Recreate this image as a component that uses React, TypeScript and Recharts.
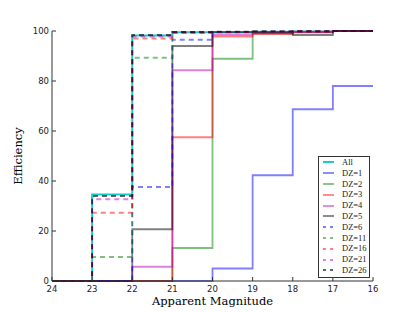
import React from "react";
import { Label, Line, LineChart, XAxis, YAxis } from "recharts";

// bin edges (apparent magnitude), last value repeated to close the final step
const edges = [24, 23, 22, 21, 20, 19, 18, 17, 16];
const yTicks = [0, 20, 40, 60, 80, 100];

const effAll = [0, 34.6, 98.2, 99.5, 99.6, 99.7, 99.8, 100, 100];
const effDz1 = [0, 0, 0, 0, 5, 42.3, 68.7, 78, 78];
const effDz2 = [0, 0, 0, 13.2, 88.9, 99, 99.5, 100, 100];
const effDz3 = [0, 0, 0, 57.5, 97.8, 98.8, 99.5, 100, 100];
const effDz4 = [0, 0, 5.7, 84.3, 98.5, 99.3, 99.7, 100, 100];
const effDz5 = [0, 0, 20.7, 94, 99.5, 99.5, 98.4, 100, 100];
const effDz6 = [0, 0, 37.6, 96.5, 99.5, 99.7, 99.8, 100, 100];
const effDz11 = [0, 9.6, 89.3, 99.4, 99.6, 99.7, 99.8, 100, 100];
const effDz16 = [0, 27.3, 97, 99.3, 99.6, 99.7, 99.8, 100, 100];
const effDz21 = [0, 32.7, 97.8, 99.5, 99.6, 99.7, 99.8, 100, 100];
const effDz26 = [0, 34, 98.4, 99.6, 99.7, 99.8, 99.9, 100, 100];

type Series = { key: string; name: string; values: number[]; color: string; dashed: boolean; opacity: number; width: number };

const series: Series[] = [
  { key: "all", name: "All", values: effAll, color: "#00c4c4", dashed: false, opacity: 0.9, width: 2 },
  { key: "dz1", name: "DZ=1", values: effDz1, color: "#0000ff", dashed: false, opacity: 0.5, width: 1.8 },
  { key: "dz2", name: "DZ=2", values: effDz2, color: "#008000", dashed: false, opacity: 0.5, width: 1.8 },
  { key: "dz3", name: "DZ=3", values: effDz3, color: "#ff0000", dashed: false, opacity: 0.5, width: 1.8 },
  { key: "dz4", name: "DZ=4", values: effDz4, color: "#c000c0", dashed: false, opacity: 0.5, width: 1.8 },
  { key: "dz5", name: "DZ=5", values: effDz5, color: "#000000", dashed: false, opacity: 0.5, width: 1.8 },
  { key: "dz6", name: "DZ=6", values: effDz6, color: "#0000ff", dashed: true, opacity: 0.5, width: 1.8 },
  { key: "dz11", name: "DZ=11", values: effDz11, color: "#008000", dashed: true, opacity: 0.5, width: 1.8 },
  { key: "dz16", name: "DZ=16", values: effDz16, color: "#ff0000", dashed: true, opacity: 0.5, width: 1.8 },
  { key: "dz21", name: "DZ=21", values: effDz21, color: "#c000c0", dashed: true, opacity: 0.5, width: 1.8 },
  { key: "dz26", name: "DZ=26", values: effDz26, color: "#000000", dashed: true, opacity: 0.6, width: 1.8 },
];

const data = edges.map((mag, i) => {
  const row: Record<string, number> = { mag };
  series.forEach((s) => (row[s.key] = s.values[i]));
  return row;
});

const AXIS = "#333";
const TICK_FONT = "DejaVu Sans, sans-serif";
const SERIF = "DejaVu Serif, serif";
const LEGEND_FONT = "Liberation Serif, serif";

const BottomTick = ({ x, y, payload }: any) => (
  <g>
    <line x1={x} y1={y} x2={x} y2={y - 4} stroke={AXIS} />
    <text x={x} y={y + 11} textAnchor="middle" fontSize={8.5} fontFamily={TICK_FONT} fill="#222">
      {payload.value}
    </text>
  </g>
);
const TopTick = ({ x, y }: any) => <line x1={x} y1={y} x2={x} y2={y + 4} stroke={AXIS} />;
const LeftTick = ({ x, y, payload }: any) => (
  <g>
    <line x1={x} y1={y} x2={x + 4} y2={y} stroke={AXIS} />
    <text x={x - 3} y={y + 3} textAnchor="end" fontSize={8.5} fontFamily={TICK_FONT} fill="#222">
      {payload.value}
    </text>
  </g>
);
const RightTick = ({ x, y }: any) => <line x1={x} y1={y} x2={x - 4} y2={y} stroke={AXIS} />;

function LegendBox() {
  return (
    <div
      style={{
        position: "absolute",
        left: 318,
        top: 156,
        width: 52,
        height: 122,
        border: "1px solid #333",
        background: "#fff",
        boxSizing: "border-box",
        padding: "0 0 0 3px",
        fontFamily: LEGEND_FONT,
        fontSize: 8.5,
        color: "#222",
      }}
    >
      {series.map((s) => (
        <div key={s.key} style={{ display: "flex", alignItems: "center", height: 10.8, lineHeight: "10.8px" }}>
          <svg width={14} height={10} style={{ marginRight: 6, flex: "none" }}>
            <line
              x1={1}
              y1={5}
              x2={12}
              y2={5}
              stroke={s.color}
              strokeOpacity={s.opacity}
              strokeWidth={s.width}
              strokeDasharray={s.dashed ? "3,4" : undefined}
            />
          </svg>
          <span style={{ whiteSpace: "nowrap" }}>{s.name}</span>
        </div>
      ))}
    </div>
  );
}

export default function App() {
  return (
    <div style={{ position: "absolute", left: 0, top: 0, width: 415, height: 312, background: "#fff" }}>
      <LineChart width={415} height={312} data={data} margin={{ top: 31, right: 42, bottom: 0, left: 0 }}>
        <XAxis
          xAxisId="b"
          dataKey="mag"
          type="number"
          domain={[16, 24]}
          reversed
          ticks={edges}
          tickSize={0}
          tickMargin={0}
          height={31}
          axisLine={{ stroke: AXIS }}
          tickLine={false}
          tick={<BottomTick />}
        >
          <Label
            content={({ viewBox }: any) => (
              <text
                x={viewBox.x + viewBox.width / 2}
                y={viewBox.y + 24}
                textAnchor="middle"
                fontSize={11.5}
                fontFamily={SERIF}
                fill="#000"
              >
                Apparent Magnitude
              </text>
            )}
          />
        </XAxis>
        <XAxis
          xAxisId="t"
          dataKey="mag"
          type="number"
          domain={[16, 24]}
          reversed
          orientation="top"
          ticks={edges}
          tickSize={0}
          tickMargin={0}
          height={0}
          axisLine={{ stroke: AXIS }}
          tickLine={false}
          tick={<TopTick />}
        />
        <YAxis
          yAxisId="l"
          domain={[0, 100]}
          ticks={yTicks}
          width={52}
          tickSize={0}
          tickMargin={0}
          axisLine={{ stroke: AXIS }}
          tickLine={false}
          tick={<LeftTick />}
        >
          <Label
            content={({ viewBox }: any) => {
              const cx = viewBox.x + 22;
              const cy = viewBox.y + viewBox.height / 2;
              return (
                <text
                  x={cx}
                  y={cy}
                  transform={`rotate(-90, ${cx}, ${cy})`}
                  textAnchor="middle"
                  fontSize={11.5}
                  fontFamily={SERIF}
                  fill="#000"
                >
                  Efficiency
                </text>
              );
            }}
          />
        </YAxis>
        <YAxis
          yAxisId="r"
          orientation="right"
          domain={[0, 100]}
          ticks={yTicks}
          width={0}
          tickSize={0}
          tickMargin={0}
          axisLine={{ stroke: AXIS }}
          tickLine={false}
          tick={<RightTick />}
        />
        {series.map((s) => (
          <Line
            key={s.key}
            xAxisId="b"
            yAxisId="l"
            dataKey={s.key}
            name={s.name}
            type="stepAfter"
            stroke={s.color}
            strokeOpacity={s.opacity}
            strokeWidth={s.width}
            strokeDasharray={s.dashed ? "5,4" : undefined}
            dot={false}
            activeDot={false}
            isAnimationActive={false}
          />
        ))}
      </LineChart>
      <LegendBox />
    </div>
  );
}
